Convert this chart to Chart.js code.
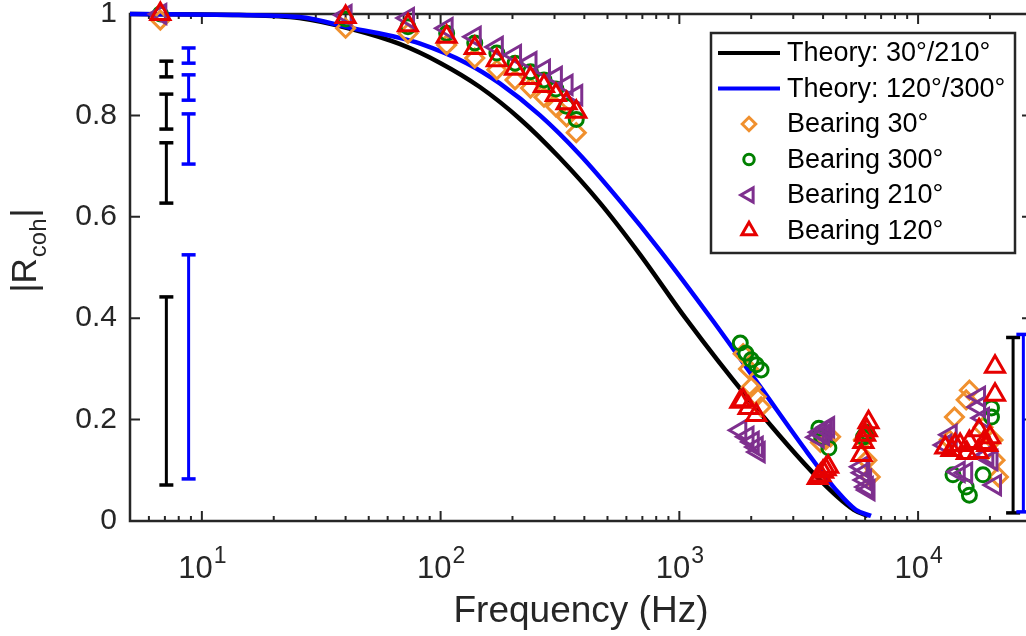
<!DOCTYPE html>
<html>
<head>
<meta charset="utf-8">
<script src="https://cdn.jsdelivr.net/npm/chart.js@4.4.1/dist/chart.umd.min.js"></script>
<style>
  html, body { margin: 0; padding: 0; background: #fff; overflow: hidden; }
  #wrap { position: relative; width: 1046px; height: 636px; }
</style>
</head>
<body>
<div id="wrap"><canvas id="mycanvas"></canvas></div>
<script>
var FONT = '"Liberation Sans", Arial, Helvetica, sans-serif';
var AXIS = '#262626';

// axis ticks / labels
var xMin = 5, xMax = 30000;
var xTickValues = [10, 100, 1000, 10000];
var xTickExp = ['1', '2', '3', '4'];
var yTickValues = [0, 0.2, 0.4, 0.6, 0.8, 1];
var yTickLabels = ['0', '0.2', '0.4', '0.6', '0.8', '1'];
var xTitle = 'Frequency (Hz)';

// theory curves
var theoryFreqA = [5, 14.3, 25.6, 42.7, 67.3, 100, 146, 215, 316, 466, 686, 1069, 1932, 3802, 5383, 6166];
var theoryA = [1.0, 0.998, 0.992, 0.970, 0.941, 0.903, 0.856, 0.793, 0.716, 0.627, 0.525, 0.398, 0.243, 0.085, 0.022, 0.010];
var theoryFreqB = [5, 14.3, 25.6, 42.7, 67.3, 81.6, 128.5, 177, 261, 384, 565, 832, 1377, 2189, 3450, 4613, 5486, 6350];
var theoryB = [1.0, 0.998, 0.994, 0.972, 0.953, 0.942, 0.903, 0.863, 0.800, 0.722, 0.631, 0.533, 0.396, 0.264, 0.134, 0.057, 0.022, 0.010];

// error bars
var errFreqA = [7.1, 7.1, 7.1, 7.1, 25000];
var errLoA = [0.876, 0.773, 0.627, 0.071, 0.016];
var errHiA = [0.907, 0.842, 0.746, 0.442, 0.362];
var errFreqB = [8.8, 8.8, 8.8, 8.8, 27600];
var errLoB = [0.903, 0.830, 0.704, 0.083, 0.018];
var errHiB = [0.933, 0.880, 0.803, 0.525, 0.368];

// measured points
var freq30 = [6.7, 40, 73, 106, 139, 172, 205, 238, 271, 304, 337, 370,
  1850, 1950, 2000, 2100, 2200, 3900, 4100, 4300, 5900, 6100, 6300,
  13500, 14200, 15900, 16400, 18700, 20600, 21000, 21700];
var coh30 = [0.988, 0.972, 0.962, 0.939, 0.913, 0.890, 0.870, 0.854, 0.836, 0.817, 0.797, 0.766,
  0.330, 0.300, 0.264, 0.245, 0.225, 0.155, 0.160, 0.166, 0.160, 0.120, 0.087,
  0.160, 0.205, 0.239, 0.258, 0.185, 0.160, 0.120, 0.087];

var freq300 = [6.7, 40, 73, 106, 139, 172, 205, 238, 271, 304, 337, 370,
  1800, 1900, 2000, 2100, 2200, 3840, 3950, 4230, 5900, 6000, 6100,
  14000, 15900, 16400, 18700, 20300, 20300];
var coh300 = [1.0, 0.990, 0.975, 0.962, 0.943, 0.923, 0.903, 0.886, 0.870, 0.852, 0.818, 0.792,
  0.351, 0.331, 0.318, 0.308, 0.298, 0.183, 0.165, 0.144, 0.165, 0.170, 0.175,
  0.091, 0.067, 0.051, 0.091, 0.223, 0.205];

var freq210 = [6.7, 40, 73, 106, 139, 172, 205, 238, 271, 304, 337, 370,
  1800, 1930, 2030, 2110, 2150, 3800, 3900, 4000, 4100, 4200, 5800, 5900, 6000, 6100, 6200,
  13000, 13700, 14800, 15900, 18000, 18000, 18700, 19500, 20300, 21000];
var coh210 = [1.0, 0.998, 0.992, 0.972, 0.955, 0.935, 0.919, 0.905, 0.890, 0.876, 0.860, 0.840,
  0.179, 0.166, 0.156, 0.146, 0.136, 0.165, 0.175, 0.170, 0.180, 0.185, 0.107, 0.095, 0.081, 0.067, 0.061,
  0.150, 0.170, 0.097, 0.095, 0.245, 0.225, 0.203, 0.130, 0.120, 0.071];

var freq120 = [6.7, 40, 73, 106, 139, 172, 205, 238, 271, 304, 337, 370,
  1800, 1850, 1950, 2100, 3800, 3900, 4000, 4100, 4200, 5800, 5900, 6000, 6100, 6200,
  13000, 13800, 14300, 15000, 16000, 16400, 17800, 18000, 18800, 19500, 20000, 21000, 21000];
var coh120 = [1.0, 0.994, 0.978, 0.955, 0.933, 0.909, 0.892, 0.874, 0.858, 0.840, 0.824, 0.807,
  0.235, 0.238, 0.223, 0.209, 0.085, 0.090, 0.097, 0.102, 0.107, 0.130, 0.156, 0.170, 0.179, 0.195,
  0.145, 0.140, 0.150, 0.150, 0.134, 0.156, 0.136, 0.179, 0.154, 0.150, 0.165, 0.249, 0.304];

function pts(xs, ys) {
  return xs.map(function (x, i) { return {x: x, y: ys[i]}; });
}
function bars(xs, lo, hi) {
  var out = [];
  for (var i = 0; i < xs.length; i++) {
    out.push({x: xs[i], y: lo[i]}, {x: xs[i], y: hi[i]}, {x: xs[i], y: null});
  }
  return out;
}
function markers(label, data, color, style, radius, rotation) {
  return {
    label: label, data: data, showLine: false, clip: false,
    pointStyle: style, pointRadius: radius, pointHoverRadius: radius,
    pointRotation: rotation || 0, pointBorderWidth: 3, pointHoverBorderWidth: 3,
    pointBorderColor: color, pointBackgroundColor: 'rgba(0,0,0,0)'
  };
}

var datasets = [
  markers('Bearing 120°', pts(freq120, coh120), '#E60000', 'triangle', 11, 0),
  markers('Bearing 210°', pts(freq210, coh210), '#7E2F8E', 'triangle', 11, -90),
  markers('Bearing 300°', pts(freq300, coh300), '#008000', 'circle', 7, 0),
  markers('Bearing 30°', pts(freq30, coh30), '#F0902E', 'rectRot', 9, 0),
  {label: 'Theory: 120°/300°', data: pts(theoryFreqB, theoryB), showLine: true, clip: false,
   borderColor: '#0000FF', borderWidth: 4.5, pointRadius: 0, cubicInterpolationMode: 'monotone'},
  {label: 'Theory: 30°/210°', data: pts(theoryFreqA, theoryA), showLine: true, clip: false,
   borderColor: '#000000', borderWidth: 4.5, pointRadius: 0, cubicInterpolationMode: 'monotone'},
  {label: 'err B', data: bars(errFreqB, errLoB, errHiB), showLine: true, spanGaps: false, clip: false,
   borderColor: '#0000FF', borderWidth: 3, pointStyle: 'line', pointRadius: 7, pointHoverRadius: 7,
   pointBorderColor: '#0000FF', pointBorderWidth: 3.5},
  {label: 'err A', data: bars(errFreqA, errLoA, errHiA), showLine: true, spanGaps: false, clip: false,
   borderColor: '#000000', borderWidth: 3, pointStyle: 'line', pointRadius: 7, pointHoverRadius: 7,
   pointBorderColor: '#000000', pointBorderWidth: 3.5}
];

// legend rows, top to bottom (dataset index)
var legendOrder = [5, 4, 3, 2, 1, 0];

var decor = {
  id: 'decor',
  beforeDatasetsDraw: function (chart) {
    var ctx = chart.ctx, a = chart.chartArea, xs = chart.scales.x, ys = chart.scales.y;
    ctx.save();
    ctx.strokeStyle = AXIS;
    ctx.lineWidth = 2;
    ctx.beginPath();
    for (var d = 1; d <= 10000; d *= 10) {
      for (var m = 1; m <= 9; m++) {
        var v = m * d;
        if (v <= xMin || v >= xMax) continue;
        var len = (m === 1) ? 10 : 5;
        var p = xs.getPixelForValue(v);
        ctx.moveTo(p, a.bottom); ctx.lineTo(p, a.bottom - len);
        ctx.moveTo(p, a.top); ctx.lineTo(p, a.top + len);
      }
    }
    yTickValues.forEach(function (v) {
      var p = ys.getPixelForValue(v);
      ctx.moveTo(a.left, p); ctx.lineTo(a.left + 10, p);
      ctx.moveTo(a.right, p); ctx.lineTo(a.right - 10, p);
    });
    ctx.stroke();
    ctx.lineWidth = 2.5;
    ctx.strokeRect(a.left, a.top, a.right - a.left, a.bottom - a.top);
    ctx.restore();
  },
  afterDatasetsDraw: function (chart) {
    var ctx = chart.ctx, a = chart.chartArea;
    // legend box
    var L = a.right - 321, T = a.top + 19, W = 304, H = 220;
    ctx.save();
    ctx.fillStyle = '#fff';
    ctx.fillRect(L, T, W, H);
    ctx.strokeStyle = AXIS;
    ctx.lineWidth = 2.5;
    ctx.strokeRect(L, T, W, H);
    ctx.font = '27px ' + FONT;
    ctx.textBaseline = 'middle';
    ctx.textAlign = 'left';
    legendOrder.forEach(function (idx, row) {
      var ds = chart.data.datasets[idx];
      var cy = T + 20 + row * 35.5;
      if (ds.showLine) {
        ctx.strokeStyle = ds.borderColor;
        ctx.lineWidth = 4;
        ctx.beginPath();
        ctx.moveTo(L + 7, cy); ctx.lineTo(L + 69, cy);
        ctx.stroke();
      } else {
        ctx.strokeStyle = ds.pointBorderColor;
        ctx.fillStyle = 'rgba(0,0,0,0)';
        ctx.lineWidth = 3;
        Chart.helpers.drawPoint(ctx, {
          pointStyle: ds.pointStyle, radius: ds.pointRadius * 0.75,
          rotation: ds.pointRotation, borderWidth: 3
        }, L + 38, cy);
      }
      ctx.fillStyle = '#000';
      ctx.fillText(ds.label, L + 76, cy + 1);
    });
    ctx.restore();
  },
  afterDraw: function (chart) {
    var ctx = chart.ctx, a = chart.chartArea, xs = chart.scales.x;
    ctx.save();
    ctx.fillStyle = AXIS;
    ctx.textBaseline = 'alphabetic';
    ctx.textAlign = 'left';
    xTickValues.forEach(function (v, i) {
      var p = xs.getPixelForValue(v);
      ctx.font = '31px ' + FONT;
      var wb = ctx.measureText('10').width;
      ctx.font = '23px ' + FONT;
      var we = ctx.measureText(xTickExp[i]).width;
      var x0 = p - (wb + we) / 2;
      ctx.font = '31px ' + FONT;
      ctx.fillText('10', x0, a.bottom + 57);
      ctx.font = '23px ' + FONT;
      ctx.fillText(xTickExp[i], x0 + wb + 1, a.bottom + 42);
    });
    // y title |R_coh|
    ctx.translate(a.left - 94, (a.top + a.bottom) / 2 - 17);
    ctx.rotate(-Math.PI / 2);
    ctx.font = '35px ' + FONT;
    var w1 = ctx.measureText('|R').width, w3 = ctx.measureText('|').width;
    ctx.font = '24px ' + FONT;
    var w2 = ctx.measureText('coh').width;
    var x = -(w1 + w2 + w3 + 2) / 2;
    ctx.font = '35px ' + FONT;
    ctx.fillText('|R', x, 0);
    ctx.font = '24px ' + FONT;
    ctx.fillText('coh', x + w1 + 1, 10);
    ctx.font = '35px ' + FONT;
    ctx.fillText('|', x + w1 + w2 + 2, 0);
    ctx.restore();
  }
};

Chart.defaults.font.family = FONT;

var ctx = document.getElementById('mycanvas');
var chart = new Chart(ctx, {
  type: 'scatter',
  data: {datasets: datasets},
  plugins: [decor],
  options: {
    responsive: true,
    maintainAspectRatio: false,
    animation: false,
    events: [],
    layout: {padding: {top: 14, right: 14, left: 0, bottom: 0}},
    plugins: {legend: {display: false}, tooltip: {enabled: false}},
    scales: {
      x: {
        type: 'logarithmic', min: xMin, max: xMax,
        grid: {display: false, drawTicks: false},
        border: {display: false},
        ticks: {display: false},
        title: {display: true, text: xTitle, color: AXIS, font: {size: 37}, padding: {top: 0, bottom: 2}},
        afterFit: function (s) { s.height = 115; s.paddingLeft = 0; s.paddingRight = 0; }
      },
      y: {
        type: 'linear', min: 0, max: 1,
        grid: {display: false, drawTicks: false},
        border: {display: false},
        afterBuildTicks: function (s) {
          s.ticks = yTickValues.map(function (v) { return {value: v}; });
        },
        ticks: {
          color: AXIS, font: {size: 30}, padding: 13,
          callback: function (v, i) { return yTickLabels[i]; }
        },
        afterFit: function (s) { s.width = 130; s.paddingTop = 0; s.paddingBottom = 0; }
      }
    }
  }
});
</script>
</body>
</html>
